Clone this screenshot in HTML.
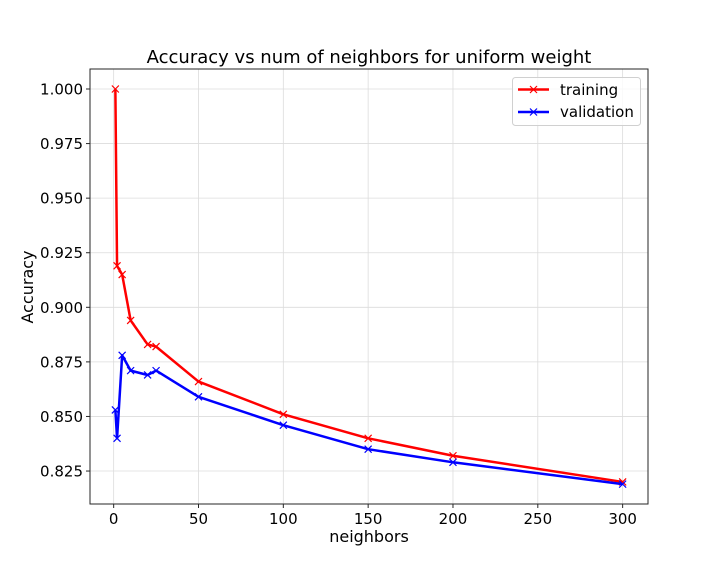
<!DOCTYPE html>
<html><head><meta charset="utf-8"><style>
body{margin:0;background:#fff;}
svg{display:block;font-family:"DejaVu Sans","Liberation Sans",sans-serif;}
</style></head><body>
<svg id="chart" width="720" height="576" viewBox="0 0 720 576"></svg>
<script>
const categories = [1, 2, 5, 10, 20, 25, 50, 100, 150, 200, 300];
const trainingValues = [1.000, 0.919, 0.915, 0.894, 0.883, 0.882, 0.866, 0.851, 0.840, 0.832, 0.820];
const validationValues = [0.853, 0.840, 0.878, 0.871, 0.869, 0.871, 0.859, 0.846, 0.835, 0.829, 0.819];
const xTicks = [0, 50, 100, 150, 200, 250, 300];
const yTicks = [0.825, 0.850, 0.875, 0.900, 0.925, 0.950, 0.975, 1.000];
const yTickLabels = ["0.825", "0.850", "0.875", "0.900", "0.925", "0.950", "0.975", "1.000"];

const NS = "http://www.w3.org/2000/svg";
const svg = document.getElementById('chart');
const L = 90, R = 648, T = 69, B = 504;
const xMin = -13.95, xMax = 314.95, yMin = 0.8099, yMax = 1.00916;
function xs(v){ return L + (v - xMin) / (xMax - xMin) * (R - L); }
function ys(v){ return B - (v - yMin) / (yMax - yMin) * (B - T); }
function mk(tag, attrs, parent){
  const e = document.createElementNS(NS, tag);
  for (const k in attrs) e.setAttribute(k, attrs[k]);
  (parent || svg).appendChild(e);
  return e;
}

const grid = mk('g', {});


xTicks.forEach(t => {
  const g = mk('line', {x1: xs(t), x2: xs(t), y1: T, y2: B, stroke: '#dcdcdc', 'stroke-width': 0.8}, grid);
  
  
});
yTicks.forEach(t => {
  const g = mk('line', {x1: L, x2: R, y1: ys(t), y2: ys(t), stroke: '#dcdcdc', 'stroke-width': 0.8}, grid);
  
  
});

function series(vals, color, name){
  const g = mk('g', {});
  
  
  const pts = categories.map((c, i) => xs(c).toFixed(2) + ',' + ys(vals[i]).toFixed(2)).join(' ');
  const pl = mk('polyline', {points: pts, fill: 'none', stroke: color, 'stroke-width': 2.5, 'stroke-linejoin': 'round'}, g);
  
  
  categories.forEach((c, i) => {
    const x = xs(c), y = ys(vals[i]), s = 3.5;
    const m = mk('path', {d: `M${x-s},${y-s}L${x+s},${y+s}M${x-s},${y+s}L${x+s},${y-s}`, stroke: color, 'stroke-width': 1.2}, g);
    
    
  });
}
series(trainingValues, '#ff0000', 'training');
series(validationValues, '#0000ff', 'validation');

const frame = mk('rect', {x: L, y: T, width: R - L, height: B - T, fill: 'none', stroke: '#262626', 'stroke-width': 1});



xTicks.forEach(t => {
  const tk = mk('line', {x1: xs(t), x2: xs(t), y1: B, y2: B + 4, stroke: '#262626'});
  
  
  const tx = mk('text', {x: xs(t), y: B + 20, 'font-size': 15, 'text-anchor': 'middle', fill: '#000'});
  tx.textContent = t;
  
  
});
yTicks.forEach((t, i) => {
  const tk = mk('line', {x1: L - 4, x2: L, y1: ys(t), y2: ys(t), stroke: '#262626'});
  
  
  const tx = mk('text', {x: L - 7, y: ys(t) + 5.5, 'font-size': 15, 'text-anchor': 'end', fill: '#000'});
  tx.textContent = yTickLabels[i];
  
  
});
</script>
<svg width="720" height="576" style="position:absolute;left:0;top:0;font-family:'DejaVu Sans','Liberation Sans',sans-serif;">
  <text x="369" y="63" font-size="18" text-anchor="middle">Accuracy vs num of neighbors for uniform weight</text>
  <text x="369" y="542" font-size="16" text-anchor="middle">neighbors</text>
  <text x="33" y="287" font-size="16" text-anchor="middle" transform="rotate(-90 33 287)">Accuracy</text>
  <g>
    <rect x="512.5" y="77.5" width="128" height="48" rx="3" fill="#fff" fill-opacity="0.8" stroke="#d0d0d0"/>
    <g>
      <line x1="518" x2="549" y1="89.5" y2="89.5" stroke="#ff0000" stroke-width="2.5"/>
      <path d="M530,86L537,93M530,93L537,86" stroke="#ff0000" stroke-width="1.2"/>
      <text x="560" y="95" font-size="15">training</text>
    </g>
    <g>
      <line x1="518" x2="549" y1="112" y2="112" stroke="#0000ff" stroke-width="2.5"/>
      <path d="M530,108.5L537,115.5M530,115.5L537,108.5" stroke="#0000ff" stroke-width="1.2"/>
      <text x="560" y="117" font-size="15">validation</text>
    </g>
  </g>
</svg>
</body></html>
